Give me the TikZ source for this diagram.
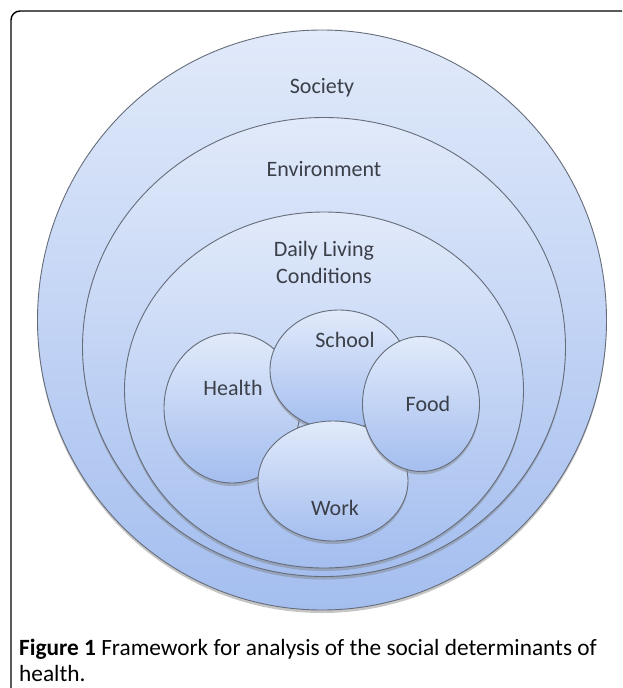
\documentclass[tikz,border=0pt]{standalone}
\usepackage{fontspec}
\setmainfont{Carlito}
\usetikzlibrary{shapes.geometric, shadows, positioning}

\definecolor{ringtop}{HTML}{E1EAFA}
\definecolor{ringbot}{HTML}{A4BEEF}
\definecolor{ringline}{HTML}{656C7A}
\definecolor{lbltext}{HTML}{3B3F48}

\begin{document}
\begin{tikzpicture}[
   x = 1pt, y = -1pt,
   dims/.style 2 args = {minimum width=#1pt, minimum height=#2pt},
   ring/.style = {ellipse, draw=ringline, line width=0.9pt, inner sep=0pt,
      top color=ringtop, bottom color=ringbot,
      drop shadow={shadow xshift=0pt, shadow yshift=-3pt, opacity=.45}},
   lbl/.style = {text=lbltext, font=\fontsize{22}{27}\selectfont, align=center}]
   \useasboundingbox (0,0) rectangle (622,688);

   % frame
   \draw[line width=1.4pt, rounded corners=9pt] (11,688) -- (11,11) -- (622,11);

   % outer rings
   \node[ring, dims={569}{580}] (society) at (322,320) {};
   \node[ring, dims={483}{459}] (environment) at (324,347) {};
   \node[ring, dims={399}{356}] (living) at (324,390) {};

   \node[lbl] (societylbl) at ([yshift=-58pt]society.north) {Society};
   \node[lbl] (environmentlbl) at ([yshift=-52pt]environment.north) {Environment};
   \node[lbl] (livinglbl) at ([yshift=-51pt]living.north) {Daily Living\\Conditions};

   % inner circles
   \node[ring, dims={136}{150}] (health) at (232,408) {};
   \node[ring, dims={138}{120}] (school) at (339,370) {};
   \node[ring, dims={150}{120}] (work) at (333,481) {};
   \node[ring, dims={117}{135}] (food) at (421,404) {};

   \node[lbl] (healthlbl) at ([xshift=1pt, yshift=20pt]health) {Health};
   \node[lbl] (schoollbl) at ([xshift=6pt, yshift=30pt]school) {School};
   \node[lbl] (foodlbl) at ([xshift=7pt]food) {Food};
   \node[lbl] (worklbl) at ([xshift=2pt, yshift=-27pt]work) {Work};

   % caption
   \node[anchor=north west, align=left, inner sep=0pt,
      font=\fontsize{23.3}{26}\selectfont] (caption) at (19,639)
      {\textbf{Figure 1} Framework for analysis of the social determinants of\\health.};
\end{tikzpicture}
\end{document}
